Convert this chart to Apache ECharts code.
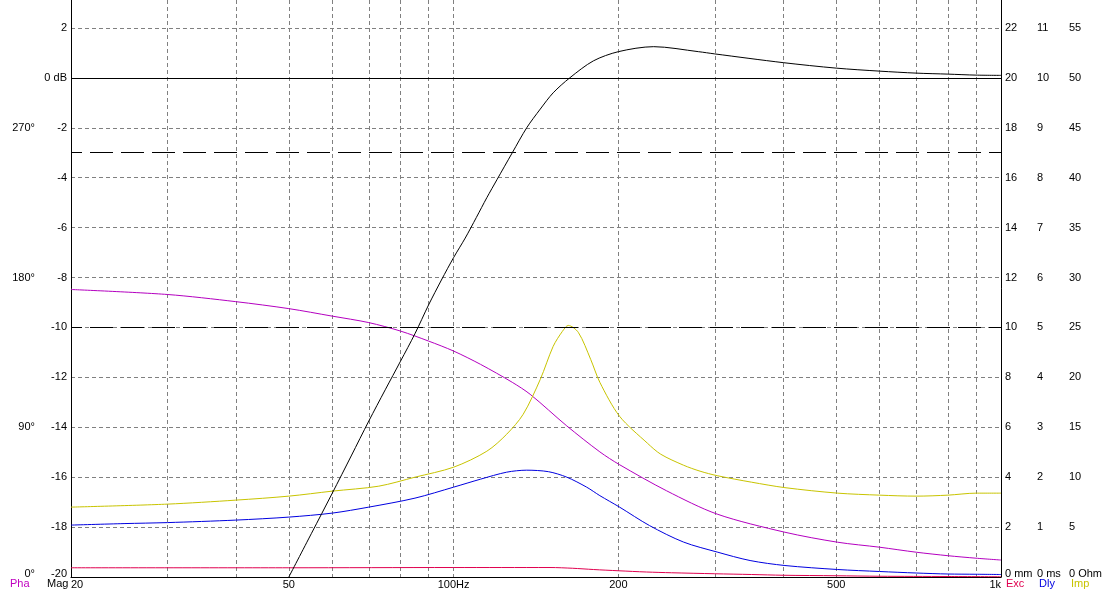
<!DOCTYPE html>
<html>
<head>
<meta charset="utf-8">
<script src="https://cdn.jsdelivr.net/npm/echarts@6/dist/echarts.min.js"></script>
<style>
html,body{margin:0;padding:0;background:#fff;}
#chart{width:1118px;height:598px;}
</style>
</head>
<body>
<div id="chart"></div>
<script>
// ---- data ----
const magFreq = [50,55,60,65,70,75,80,85,90,95,100,105,110,115,120,128,136,144,152,163,180,200,232,280,300,400,500,600,700,800,900,1000];
const magDb   = [-20,-18.25,-16.65,-15.15,-13.75,-12.5,-11.35,-10.25,-9.1,-8.1,-7.2,-6.42,-5.6,-4.8,-4.08,-3.0,-2.0,-1.25,-0.6,0,0.68,1.05,1.25,1.05,0.96,0.61,0.39,0.27,0.19,0.15,0.11,0.1];

const phaFreq = [20,30,40,50,60,70,80,90,100,112,128,138,161,185,201,245,303,403,503,600,700,800,900,1000];
const phaDeg  = [172.8,169.8,165.5,161.3,156.8,152.9,147.8,141.8,135.8,127.8,117,109.8,90.8,75.2,67.5,51.8,37.8,26.9,20.9,17.9,14.9,12.8,11.3,10.2];

const impFreq = [20,30,40,50,60,73,85,100,115,125,134,144,152,158,162,169,178,185,201,226,239,263,282,303,350,403,503,600,700,800,900,1000];
const impOhm  = [7.0,7.3,7.7,8.1,8.6,9.1,10.0,11.0,12.6,14.3,16.3,19.8,23.1,24.6,25.2,24.5,21.8,19.5,16.1,13.4,12.3,11.2,10.6,10.15,9.5,8.95,8.4,8.2,8.1,8.2,8.4,8.4];

const dlyFreq = [20,25,30,40,50,60,70,85,100,112,125,136,149,161,175,185,201,228,263,303,348,403,503,600,700,800,900,1000];
const dlyMs   = [1.04,1.07,1.09,1.14,1.2,1.28,1.4,1.58,1.8,1.96,2.1,2.14,2.11,2.0,1.8,1.63,1.4,1.03,0.7,0.5,0.33,0.23,0.15,0.11,0.08,0.06,0.055,0.05];

const excFreq = [20,50,100,150,165,180,200,225,250,300,350,400,500,600,800,1000];
const excMm   = [0.37,0.37,0.38,0.38,0.35,0.3,0.25,0.2,0.17,0.13,0.1,0.07,0.05,0.03,0.02,0.01];

const xGridValues  = [20,30,40,50,60,70,80,90,100,200,300,400,500,600,700,800,900,1000];
const xLabelValues = [20,50,100,200,500,1000];
const dbTicks   = [-20,-18,-16,-14,-12,-10,-8,-6,-4,-2,0,2];
const phaTicks  = [0,90,180,270];
const mmTicks   = [0,2,4,6,8,10,12,14,16,18,20,22];
const msTicks   = [0,1,2,3,4,5,6,7,8,9,10,11];
const ohmTicks  = [0,5,10,15,20,25,30,35,40,45,50,55];
const refLinesDb = [-3,-10];

// ---- build ----
const pair = (xs, ys) => xs.map((x, i) => [x, ys[i]]);
const TOP_DB = 3.12;
const span = TOP_DB + 20;
const font = 'Liberation Sans, Arial, sans-serif';
const lbl = {fontFamily: font, fontSize: 11, color: '#000'};
const bottomRich = {b: {fontFamily: font, fontSize: 11, color: '#000', padding: [0,0,6,0]}};

function rightAxis(max, ticks, unit, offset) {
  return {
    type: 'value', position: 'right', min: 0, max: max, offset: offset,
    axisLine: {show: offset === 0, lineStyle: {color: '#000', width: 1}},
    axisTick: {show: false, customValues: ticks},
    splitLine: {show: false},
    axisLabel: Object.assign({}, lbl, {
      customValues: ticks, margin: 4, align: 'left',
      formatter: v => v === 0 ? '{b|0 ' + unit + '}' : String(v),
      rich: bottomRich
    })
  };
}

const chart = echarts.init(document.getElementById('chart'), null, {renderer: 'canvas'});
const gridDash = {color: '#808080', width: 1, type: [4, 3]};

chart.setOption({
  animation: false,
  backgroundColor: '#fff',
  grid: {left: 71, right: 117, top: 0, bottom: 21, containLabel: false},
  xAxis: {
    type: 'log', logBase: 10, min: 20, max: 1000,
    axisLine: {show: true, onZero: false, lineStyle: {color: '#000', width: 1}},
    axisTick: {show: false, customValues: xGridValues},
    splitLine: {show: true, lineStyle: gridDash},
    minorSplitLine: {show: false},
    axisLabel: Object.assign({}, lbl, {
      customValues: xLabelValues, margin: 2,
      alignMinLabel: 'left', alignMaxLabel: 'right',
      formatter: v => v === 100 ? '100Hz' : (v === 1000 ? '1k' : String(v))
    })
  },
  yAxis: [
    {
      type: 'value', position: 'left', min: -20, max: TOP_DB,
      axisLine: {show: true, onZero: false, lineStyle: {color: '#000', width: 1}},
      axisTick: {show: false, customValues: dbTicks},
      splitLine: {show: true, lineStyle: gridDash},
      axisLabel: Object.assign({}, lbl, {
        customValues: dbTicks, margin: 4,
        formatter: v => v === 0 ? '0 dB' : (v === -20 ? '{b|-20}' : String(v)),
        rich: bottomRich
      })
    },
    {
      type: 'value', position: 'left', min: 0, max: span * 15, offset: 32,
      axisLine: {show: false}, axisTick: {show: false, customValues: phaTicks}, splitLine: {show: false},
      axisLabel: Object.assign({}, lbl, {
        customValues: phaTicks, margin: 4,
        formatter: v => v === 0 ? '{b|0°}' : v + '°',
        rich: bottomRich
      })
    },
    rightAxis(span, mmTicks, 'mm', 0),
    rightAxis(span / 2, msTicks, 'ms', 32),
    rightAxis(span * 2.5, ohmTicks, 'Ohm', 64)
  ],
  graphic: [
    {type: 'text', left: 10, top: 578, style: {text: 'Pha', fill: '#c000c0', font: '11px ' + font}},
    {type: 'text', left: 47, top: 578, style: {text: 'Mag', fill: '#000', font: '11px ' + font}},
    {type: 'text', left: 1006, top: 578, style: {text: 'Exc', fill: '#e0004f', font: '11px ' + font}},
    {type: 'text', left: 1039, top: 578, style: {text: 'Dly', fill: '#0000e0', font: '11px ' + font}},
    {type: 'text', left: 1071, top: 578, style: {text: 'Imp', fill: '#c8c400', font: '11px ' + font}}
  ],
  series: [
    {
      name: 'Mag', type: 'line', xAxisIndex: 0, yAxisIndex: 0,
      data: pair(magFreq, magDb), showSymbol: false, smooth: 0.3,
      lineStyle: {color: '#000', width: 1}, z: 5,
      markLine: {
        silent: true, symbol: 'none', label: {show: false},
        data: [
          {yAxis: 0, lineStyle: {color: '#000', width: 1, type: 'solid'}},
          ...refLinesDb.map(v => ({yAxis: v, lineStyle: {color: '#000', width: 1, type: [23, 8], dashOffset: 12}}))
        ]
      }
    },
    {
      name: 'Pha', type: 'line', xAxisIndex: 0, yAxisIndex: 1,
      data: pair(phaFreq, phaDeg), showSymbol: false, smooth: 0.3,
      lineStyle: {color: '#b400c0', width: 1}, z: 4
    },
    {
      name: 'Exc', type: 'line', xAxisIndex: 0, yAxisIndex: 2,
      data: pair(excFreq, excMm), showSymbol: false, smooth: 0.3,
      lineStyle: {color: '#e0004f', width: 1}, z: 3
    },
    {
      name: 'Dly', type: 'line', xAxisIndex: 0, yAxisIndex: 3,
      data: pair(dlyFreq, dlyMs), showSymbol: false, smooth: 0.3,
      lineStyle: {color: '#0000e0', width: 1}, z: 4
    },
    {
      name: 'Imp', type: 'line', xAxisIndex: 0, yAxisIndex: 4,
      data: pair(impFreq, impOhm), showSymbol: false, smooth: 0.3,
      lineStyle: {color: '#c8c400', width: 1}, z: 4
    }
  ]
});
</script>
</body>
</html>
